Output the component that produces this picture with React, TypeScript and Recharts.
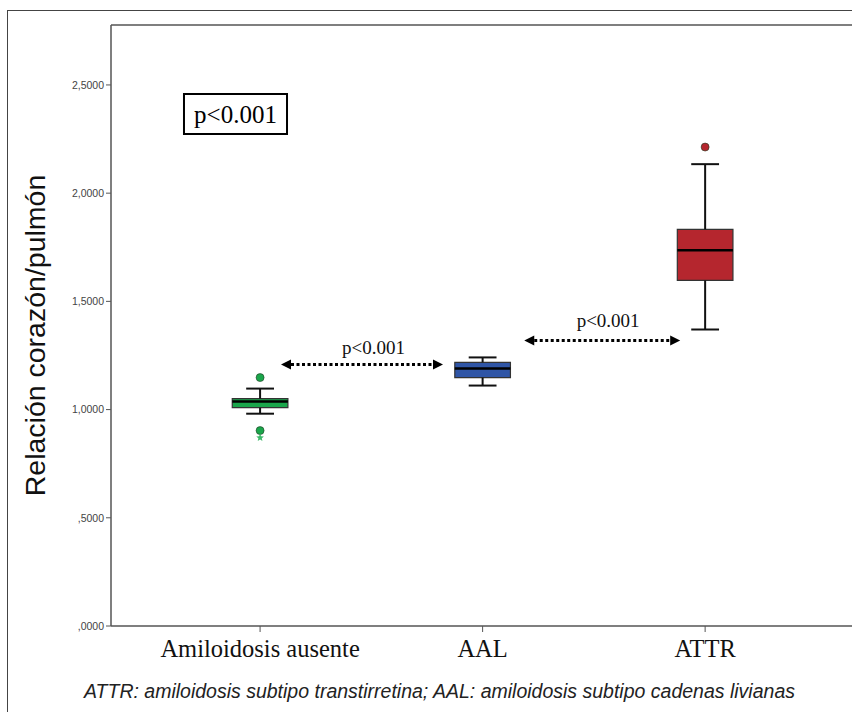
import {
  ComposedChart,
  XAxis,
  YAxis,
  Scatter,
  ReferenceArea,
  ReferenceLine,
  ReferenceDot,
} from "recharts";

// groups on the x axis (positions 1, 2, 3)
const categories = ["Amiloidosis ausente", "AAL", "ATTR"];
const boxColors = ["#1aa64b", "#2f55a6", "#b5262e"];

// box plot statistics
const whiskerLow = [0.981, 1.111, 1.37];
const q1 = [1.009, 1.148, 1.597];
const median = [1.037, 1.19, 1.736];
const q3 = [1.051, 1.218, 1.833];
const whiskerHigh = [1.097, 1.241, 2.134];

// outliers
const outlierGroup = [0, 0, 0, 2];
const outlierValue = [1.148, 0.903, 0.87, 2.213];
const outlierMarker = ["circle", "circle", "star", "circle"];

// y axis
const yTicks = [0, 0.5, 1, 1.5, 2, 2.5];
const yTickLabels = [",0000", ",5000", "1,0000", "1,5000", "2,0000", "2,5000"];
const yMax = 2.777;

// pairwise comparison arrows
const arrowStart = [1.094, 2.187];
const arrowEnd = [1.822, 2.888];
const arrowY = [1.208, 1.319];
const arrowLabel = ["p<0.001", "p<0.001"];
const arrowLabelX = [1.51, 2.564];
const arrowLabelY = [1.257, 1.38];

const BOX_HALF = 0.125;
const CAP_HALF = 0.0625;

const outlierData = outlierValue.map((v, i) => ({
  x: outlierGroup[i] + 1,
  y: v,
  marker: outlierMarker[i],
  color: boxColors[outlierGroup[i]],
}));

const serif = "'Liberation Serif', 'Times New Roman', serif";
const sans = "'Liberation Sans', Arial, sans-serif";

function OutlierShape(props: any) {
  const { cx, cy, payload } = props;
  if (payload.marker === "star") {
    const pts: string[] = [];
    for (let k = 0; k < 10; k++) {
      const r = k % 2 === 0 ? 4 : 1.8;
      const a = -Math.PI / 2 + (k * Math.PI) / 5;
      pts.push(`${cx + r * Math.cos(a)},${cy + r * Math.sin(a)}`);
    }
    return <polygon points={pts.join(" ")} fill="#3cba6a" />;
  }
  return <circle cx={cx} cy={cy} r={4} fill={payload.color} stroke="#1e3a22" strokeWidth={0.6} />;
}

function ArrowShape(props: any) {
  const { x1, y1, x2, y2 } = props;
  const head = 10;
  return (
    <g>
      <line
        x1={x1 + head}
        y1={y1}
        x2={x2 - head}
        y2={y2}
        stroke="#000"
        strokeWidth={3}
        strokeDasharray="3 2.5"
      />
      <polygon points={`${x1},${y1} ${x1 + head},${y1 - 5} ${x1 + head},${y1 + 5}`} fill="#000" />
      <polygon points={`${x2},${y2} ${x2 - head},${y2 - 5} ${x2 - head},${y2 + 5}`} fill="#000" />
    </g>
  );
}

export default function App() {
  return (
    <div
      style={{
        position: "absolute",
        left: 0,
        top: 0,
        width: 852,
        height: 712,
        background: "#fff",
        overflow: "hidden",
      }}
    >
      <div
        style={{
          position: "absolute",
          left: 7,
          top: 10,
          width: 900,
          height: 800,
          borderLeft: "1.5px solid #444",
          borderTop: "1.5px solid #444",
        }}
      />
      <div style={{ position: "absolute", left: 0, top: 0 }}>
        <ComposedChart
          width={852}
          height={712}
          margin={{ top: 25, right: 0, bottom: 36, left: 51 }}
        >
          <XAxis
            type="number"
            dataKey="x"
            domain={[0.33, 3.66]}
            ticks={[1, 2, 3]}
            interval={0}
            allowDataOverflow
            tickFormatter={(v: number) => categories[v - 1]}
            tick={{ fill: "#111", fontSize: 24.5, fontFamily: serif }}
            axisLine={{ stroke: "#555", strokeWidth: 1.5 }}
            tickLine={{ stroke: "#555" }}
            tickSize={6}
            tickMargin={8}
            height={50}
          />
          <YAxis
            type="number"
            dataKey="y"
            domain={[0, yMax]}
            ticks={yTicks}
            allowDataOverflow
            tickFormatter={(v: number) => yTickLabels[yTicks.indexOf(v)]}
            tick={{ fill: "#444", fontSize: 10.5, fontFamily: sans }}
            axisLine={{ stroke: "#555", strokeWidth: 1.5 }}
            tickLine={{ stroke: "#555" }}
            tickSize={5}
            width={60}
            label={{
              content: (p: any) => {
                const vb = p.viewBox;
                const x = vb.x - 16;
                const y = vb.y + vb.height / 2 + 10;
                return (
                  <text
                    x={x}
                    y={y}
                    transform={`rotate(-90 ${x} ${y})`}
                    textAnchor="middle"
                    dominantBaseline="central"
                    fontSize={28.5}
                    fontFamily={sans}
                    fill="#111"
                  >
                    Relación corazón/pulmón
                  </text>
                );
              },
            }}
          />
          <ReferenceLine y={yMax} stroke="#555" strokeWidth={1.5} />

          <ReferenceArea
            x1={0.658}
            x2={1.121}
            y1={2.273}
            y2={2.458}
            fill="#fff"
            fillOpacity={1}
            stroke="#000"
            strokeWidth={2}
            label={{ value: "p<0.001", position: "center", fontSize: 25, fontFamily: serif, fill: "#000" }}
          />

          {categories.map((c, i) => {
            const x = i + 1;
            return [
              <ReferenceLine
                key={`wh${i}`}
                segment={[{ x, y: q3[i] }, { x, y: whiskerHigh[i] }]}
                stroke="#111"
                strokeWidth={2}
              />,
              <ReferenceLine
                key={`wl${i}`}
                segment={[{ x, y: q1[i] }, { x, y: whiskerLow[i] }]}
                stroke="#111"
                strokeWidth={2}
              />,
              <ReferenceLine
                key={`ch${i}`}
                segment={[{ x: x - CAP_HALF, y: whiskerHigh[i] }, { x: x + CAP_HALF, y: whiskerHigh[i] }]}
                stroke="#111"
                strokeWidth={2}
              />,
              <ReferenceLine
                key={`cl${i}`}
                segment={[{ x: x - CAP_HALF, y: whiskerLow[i] }, { x: x + CAP_HALF, y: whiskerLow[i] }]}
                stroke="#111"
                strokeWidth={2}
              />,
              <ReferenceArea
                key={`b${i}`}
                x1={x - BOX_HALF}
                x2={x + BOX_HALF}
                y1={q1[i]}
                y2={q3[i]}
                fill={boxColors[i]}
                fillOpacity={1}
                stroke="#333"
                strokeWidth={1.2}
              />,
              <ReferenceLine
                key={`m${i}`}
                segment={[{ x: x - BOX_HALF, y: median[i] }, { x: x + BOX_HALF, y: median[i] }]}
                stroke="#000"
                strokeWidth={2.5}
              />,
            ];
          })}

          {arrowStart.map((s, i) => [
            <ReferenceLine
              key={`a${i}`}
              segment={[{ x: s, y: arrowY[i] }, { x: arrowEnd[i], y: arrowY[i] }]}
              shape={ArrowShape}
            />,
            <ReferenceDot
              key={`at${i}`}
              x={arrowLabelX[i]}
              y={arrowLabelY[i]}
              shape={(p: any) => (
                <text
                  x={p.cx}
                  y={p.cy}
                  textAnchor="middle"
                  fontSize={19}
                  fontFamily={serif}
                  fill="#111"
                >
                  {arrowLabel[i]}
                </text>
              )}
            />,
          ])}

          <Scatter
            data={outlierData}
            dataKey="y"
            shape={OutlierShape}
            isAnimationActive={false}
          />
        </ComposedChart>
      </div>
      <div
        style={{
          position: "absolute",
          left: 84,
          top: 680,
          fontFamily: sans,
          fontStyle: "italic",
          fontSize: 19.5,
          color: "#222",
          whiteSpace: "nowrap",
        }}
      >
        ATTR: amiloidosis subtipo transtirretina; AAL: amiloidosis subtipo cadenas livianas
      </div>
    </div>
  );
}
